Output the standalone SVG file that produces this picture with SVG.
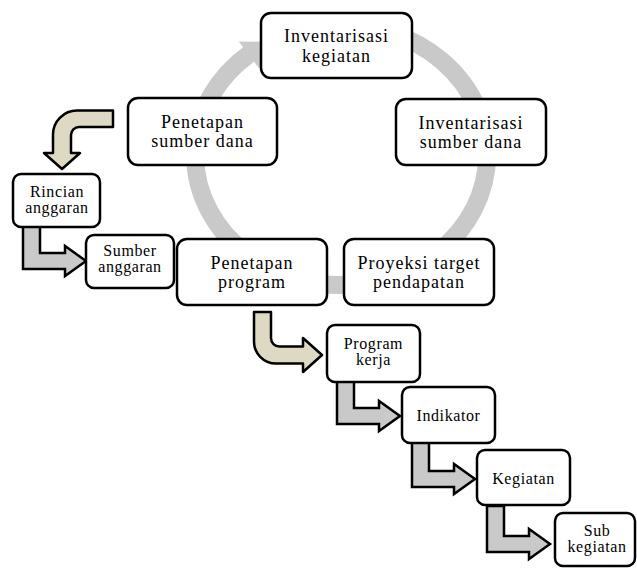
<svg xmlns="http://www.w3.org/2000/svg" width="637" height="568" viewBox="0 0 637 568">
<style>
.box{fill:#ffffff;stroke:#000000;stroke-width:2.5}
.t{font-family:"Liberation Serif","Times New Roman",serif;font-size:18px;letter-spacing:1px;fill:#000000;text-anchor:middle}
.s{font-family:"Liberation Serif","Times New Roman",serif;font-size:16px;letter-spacing:0.6px;fill:#000000;text-anchor:middle}
.ring{fill:none;stroke:#c9c9c9;stroke-width:18}
.tan{fill:#ddd9c3;stroke:#000000;stroke-width:2.5;stroke-linejoin:round}
.gray{fill:#c9c9c9;stroke:#000000;stroke-width:2.5;stroke-linejoin:miter}
</style>
<defs>
<path id="bent" d="M10,-38 L27,-38 L27,-8 L52,-8 L52,-15 L73,0 L52,15 L52,8 L10,8 Z"/>
</defs>
<rect width="637" height="568" fill="#ffffff"/>
<g id="connectors">
<path class="ring" d="M391,32.8 A146,130 0 1 1 249,54.1"/>
<polygon fill="#c9c9c9" points="238.8,41.4 259.2,68.6 266.6,41.8"/>
<path class="tan" d="M113,110.5 L77,110.5 A24,24 0 0 0 53,134.5 L53,153 L44,153 L62,169 L80,153 L71,153 L71,135 A8,8 0 0 1 79,127 L113,127 Z"/>
<path class="tan" d="M254,312 L271,312 L271,338 A8.5,8.5 0 0 0 279.5,346.5 L303,346.5 L303,338 L322,355 L303,372 L303,363.5 L276,363.5 A22,22 0 0 1 254,341.5 Z"/>
<use href="#bent" class="gray" transform="translate(13,261)"/>
<use href="#bent" class="gray" transform="translate(327,416)"/>
<use href="#bent" class="gray" transform="translate(402,479)"/>
<use href="#bent" class="gray" transform="translate(477,544)"/>
</g>
<g id="node-inventarisasi-kegiatan">
<rect class="box" x="261" y="13" width="151" height="65" rx="10"/>
<text class="t" x="336.5" y="42">Inventarisasi</text>
<text class="t" x="336.5" y="62">kegiatan</text>
</g>
<g id="node-inventarisasi-sumber-dana">
<rect class="box" x="396" y="99" width="150" height="66" rx="10"/>
<text class="t" x="471" y="129">Inventarisasi</text>
<text class="t" x="471" y="148">sumber dana</text>
</g>
<g id="node-proyeksi-target">
<rect class="box" x="344" y="239" width="150" height="66" rx="10"/>
<text class="t" x="419" y="269">Proyeksi target</text>
<text class="t" x="419" y="288">pendapatan</text>
</g>
<g id="node-penetapan-program">
<rect class="box" x="177" y="239" width="150" height="66" rx="10"/>
<text class="t" x="252" y="269">Penetapan</text>
<text class="t" x="252" y="288">program</text>
</g>
<g id="node-penetapan-sumber-dana">
<rect class="box" x="128" y="98" width="149" height="67" rx="10"/>
<text class="t" x="202.5" y="128">Penetapan</text>
<text class="t" x="202.5" y="147">sumber dana</text>
</g>
<g id="node-rincian-anggaran">
<rect class="box" x="13" y="174" width="87" height="53" rx="8"/>
<text class="s" x="57" y="197">Rincian</text>
<text class="s" x="57" y="213">anggaran</text>
</g>
<g id="node-sumber-anggaran">
<rect class="box" x="86" y="235" width="88" height="53" rx="8"/>
<text class="s" x="130" y="256">Sumber</text>
<text class="s" x="130" y="272">anggaran</text>
</g>
<g id="node-program-kerja">
<rect class="box" x="327" y="325" width="93" height="57" rx="8"/>
<text class="s" x="373.5" y="349">Program</text>
<text class="s" x="373.5" y="365">kerja</text>
</g>
<g id="node-indikator">
<rect class="box" x="402" y="387" width="93" height="56" rx="8"/>
<text class="s" x="448.5" y="420.5">Indikator</text>
</g>
<g id="node-kegiatan">
<rect class="box" x="477" y="450" width="93" height="55" rx="8"/>
<text class="s" x="523.5" y="483.5">Kegiatan</text>
</g>
<g id="node-sub-kegiatan">
<rect class="box" x="555" y="513" width="80" height="53" rx="8"/>
<text class="s" x="597" y="536">Sub</text>
<text class="s" x="597" y="552">kegiatan</text>
</g>
</svg>
